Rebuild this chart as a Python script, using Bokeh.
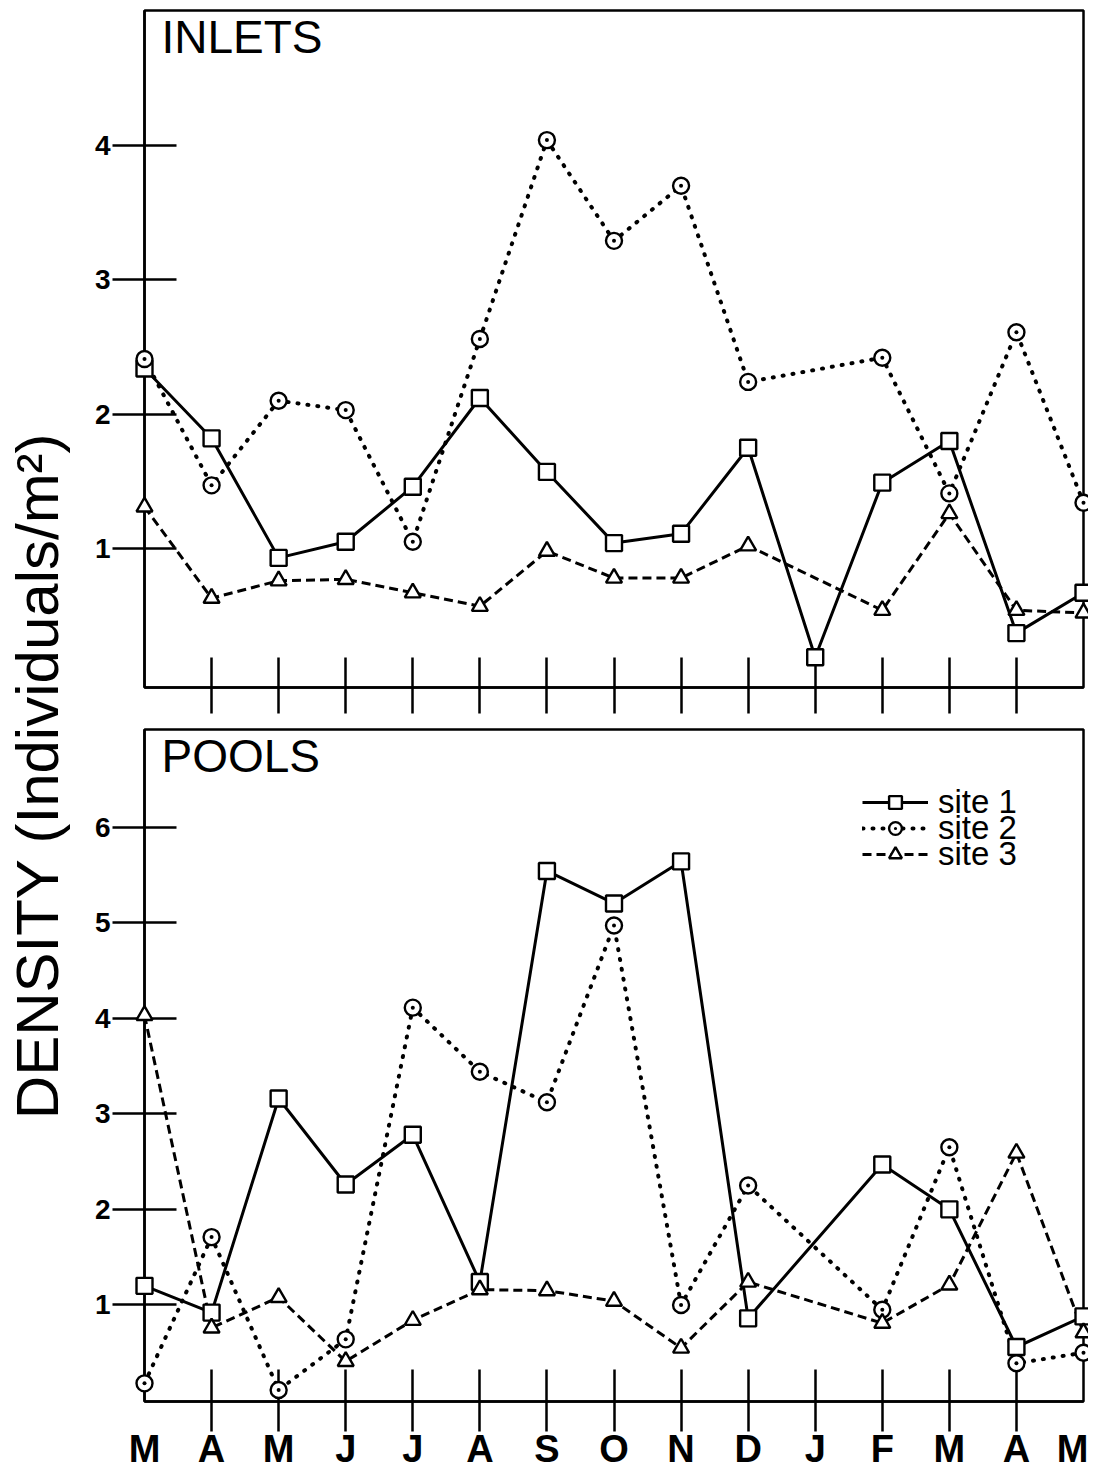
from bokeh.plotting import figure
from bokeh.layouts import row, column
from bokeh.models import Range1d, FixedTicker, Label, Legend, LegendItem
from bokeh.embed import file_html
from bokeh.resources import INLINE

# ---------------- data ----------------
months = ["M", "A", "M", "J", "J", "A", "S", "O", "N", "D", "J", "F", "M", "A", "M"]
month_pos = list(range(len(months)))

inlets_site1 = [2.34, 1.82, 0.93, 1.05, 1.46, 2.12, 1.57, 1.04, 1.11, 1.75, 0.19, 1.49, 1.80, 0.37, 0.67]
inlets_site2 = [2.41, 1.47, 2.10, 2.03, 1.05, 2.56, 4.04, 3.29, 3.70, 2.24, None, 2.42, 1.41, 2.61, 1.34]
inlets_site3 = [1.31, 0.63, 0.76, 0.77, 0.67, 0.57, 0.98, 0.78, 0.78, 1.02, None, 0.54, 1.26, 0.54, 0.52]

pools_site1 = [1.20, 0.92, 3.16, 2.26, 2.78, 1.24, 5.54, 5.20, 5.64, 0.86, None, 2.47, 2.00, 0.56, 0.88]
pools_site2 = [0.18, 1.71, 0.11, 0.64, 4.11, 3.44, 3.12, 4.97, 1.00, 2.25, None, 0.95, 2.65, 0.39, 0.50]
pools_site3 = [4.03, 0.76, 1.08, 0.41, 0.84, 1.16, 1.15, 1.04, 0.55, 1.24, None, 0.81, 1.21, 2.59, 0.71]

inlets_yticks = [1, 2, 3, 4]
pools_yticks = [1, 2, 3, 4, 5, 6]
site_labels = ["site 1", "site 2", "site 3"]

FONT = "Liberation Sans"
STYLES = [
    dict(line=dict(line_width=3, line_dash="solid"), marker="square", size=16),
    dict(line=dict(line_width=4, line_dash="1 9", line_cap="round"), marker="circle_dot", size=16),
    dict(line=dict(line_width=3, line_dash="9 5"), marker="triangle", size=16),
]


def make_panel(title, series, yticks, yr, height, b_top, b_bottom, show_xlabels,
               tick_in, tick_out, legend=False):
    p = figure(width=1010, height=height, x_range=Range1d(0, 14), y_range=Range1d(*yr),
               output_backend="svg", toolbar_location=None,
               min_border_left=66, min_border_right=5,
               min_border_top=b_top, min_border_bottom=b_bottom)
    p.background_fill_color = "white"
    p.border_fill_color = "white"
    p.xgrid.visible = False
    p.ygrid.visible = False
    p.outline_line_color = "black"
    p.outline_line_width = 2.5
    p.outline_line_alpha = 1.0

    xa = p.xaxis[0]
    if show_xlabels:
        xa.ticker = FixedTicker(ticks=month_pos, minor_ticks=month_pos[1:-1])
        xa.major_label_overrides = {i: m for i, m in zip(month_pos, months)}
        xa.major_label_text_font_size = "38px"
        xa.major_label_text_font_style = "bold"
        xa.major_label_standoff = -4
    else:
        xa.ticker = FixedTicker(ticks=[], minor_ticks=month_pos[1:-1])
        xa.major_label_standoff = 0
    xa.major_tick_in = 0
    xa.major_tick_out = 0
    xa.minor_tick_in = tick_in
    xa.minor_tick_out = tick_out
    xa.minor_tick_line_color = "black"
    xa.minor_tick_line_width = 2.5
    xa.axis_line_color = "black"
    xa.axis_line_width = 2.5
    xa.major_label_text_font = FONT
    xa.major_label_text_color = "black"

    ya = p.yaxis[0]
    ya.ticker = FixedTicker(ticks=yticks)
    ya.major_tick_in = 32
    ya.major_tick_out = 32
    ya.major_tick_line_width = 2.5
    ya.major_tick_line_color = "black"
    ya.minor_tick_line_color = None
    ya.axis_line_color = "black"
    ya.axis_line_width = 2.5
    ya.major_label_text_font = FONT
    ya.major_label_text_font_style = "bold"
    ya.major_label_text_font_size = "28px"
    ya.major_label_text_color = "black"
    ya.major_label_standoff = 2

    items = []
    for vals, st, lab in zip(series, STYLES, site_labels):
        xs = [m for m, v in zip(month_pos, vals) if v is not None]
        ys = [v for v in vals if v is not None]
        lr = p.line(xs, ys, line_color="black", **st["line"])
        mr = p.scatter(xs, ys, marker=st["marker"], size=st["size"], line_color="black",
                       line_width=2.4, fill_color="white", level="overlay")
        items.append(LegendItem(label=lab, renderers=[lr, mr]))

    p.add_layout(Label(x=0, y=yr[1], x_offset=17, y_offset=0, text=title,
                       text_font=FONT, text_font_size="46px", text_baseline="top",
                       text_align="left", text_color="black"))

    if legend:
        # one legend per row so that the rows sit as tightly as in the original
        for k, it in enumerate(items):
            lg = Legend(items=[it], location=(718, 580 - 26 * k), orientation="vertical",
                        border_line_color=None, background_fill_alpha=0,
                        padding=0, margin=0, spacing=0,
                        glyph_width=66, glyph_height=32, label_height=20,
                        label_standoff=10, label_text_font=FONT,
                        label_text_font_size="33px", label_text_color="black")
            p.add_layout(lg)
    return p


p1 = make_panel("INLETS", [inlets_site1, inlets_site2, inlets_site3], inlets_yticks,
                (-0.035, 5.005), 716, 10, 29, False, 30, 26)
p2 = make_panel("POOLS", [pools_site1, pools_site2, pools_site3], pools_yticks,
                (-0.01, 7.02), 756, 13, 70, True, 32, 30, legend=True)

lab = figure(width=78, height=1472, x_range=Range1d(0, 1), y_range=Range1d(0, 1),
             output_backend="svg", toolbar_location=None, min_border=0,
             x_axis_location=None, y_axis_location=None)
lab.grid.visible = False
lab.outline_line_color = None
lab.background_fill_color = "white"
lab.border_fill_color = "white"
lab.add_layout(Label(x=0.47, y=0.479, text="DENSITY  (Individuals/m²)", angle=90,
                     angle_units="deg", text_align="center", text_baseline="middle",
                     text_font=FONT, text_font_size="60px", text_color="black"))

layout = row(lab, column(p1, p2))
open("out.html", "w").write(file_html(layout, INLINE))
